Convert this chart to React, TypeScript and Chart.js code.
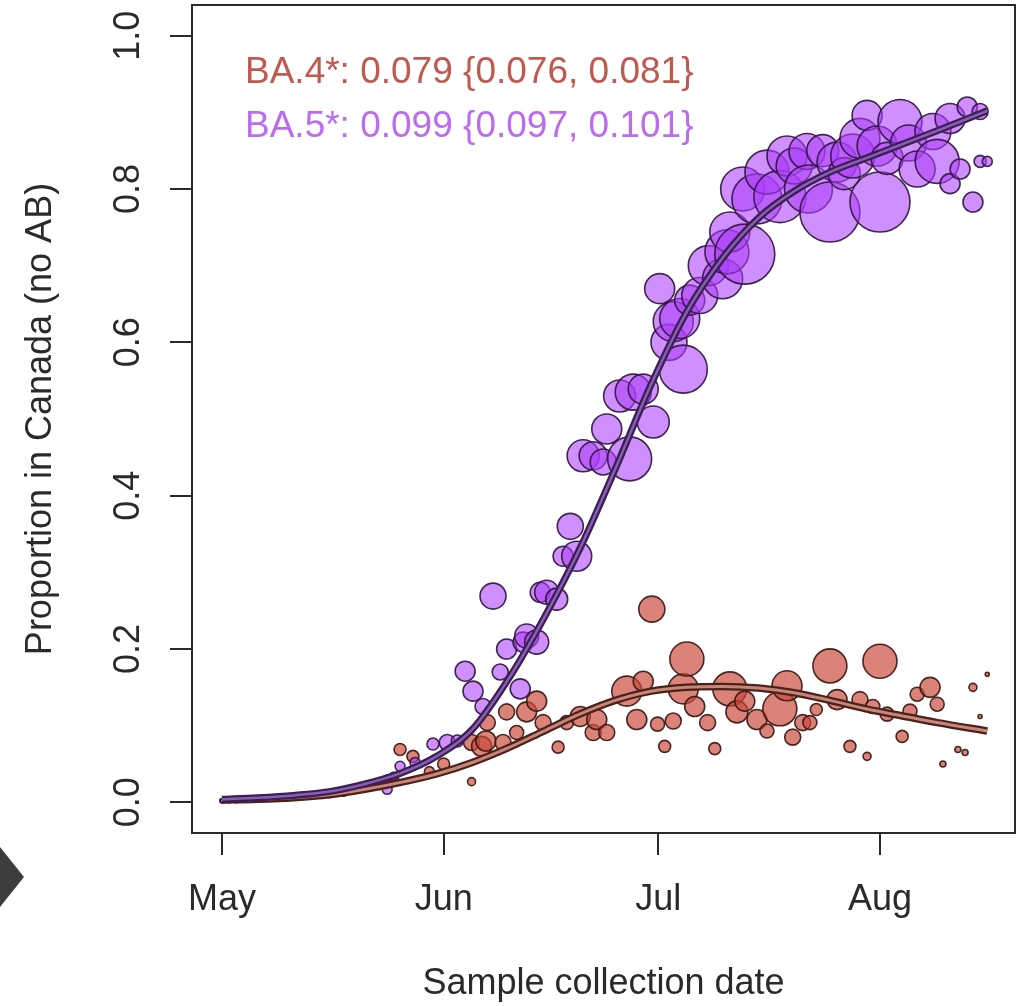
import React, { useEffect, useRef } from "react";
import { Chart, registerables } from "chart.js";

Chart.register(...registerables);

// ---- axis ticks ----
const monthTickDays = [0, 31, 61, 92]; // days since May 1
const monthTickLabels = ["May", "Jun", "Jul", "Aug"];
const yTickValues = [0, 0.2, 0.4, 0.6, 0.8, 1.0];
const yTickLabels = ["0.0", "0.2", "0.4", "0.6", "0.8", "1.0"];

const xTitle = "Sample collection date";
const yTitle = "Proportion in Canada (no AB)";
const legendLines = ["BA.4*: 0.079 {0.076, 0.081}", "BA.5*: 0.099 {0.097, 0.101}"];

// ---- fitted curves ----
const fitDays = [0, 5, 10, 15, 20, 25, 30, 35, 40, 45, 50, 55, 60, 65, 70, 75, 80, 85, 90, 95, 100, 107];
const ba4Fit = [0.003, 0.004, 0.006, 0.010, 0.017, 0.026, 0.037, 0.052, 0.071, 0.093, 0.115, 0.133, 0.145, 0.150, 0.151, 0.149, 0.143, 0.133, 0.122, 0.113, 0.104, 0.093];
const ba5Fit = [0.004, 0.006, 0.009, 0.014, 0.024, 0.038, 0.060, 0.095, 0.160, 0.240, 0.330, 0.435, 0.545, 0.640, 0.710, 0.762, 0.797, 0.822, 0.840, 0.858, 0.876, 0.902];

// ---- BA.4 observed proportions ----
const ba4Days = [
  0, 1, 2, 3, 4, 5, 6, 7, 8, 9,
  10, 11, 12, 13, 14, 15, 16, 17, 18, 19,
  20, 21, 22, 23, 24,
  24.9, 26.7, 29.0, 31.0, 34.9, 34.9, 36.3, 36.9, 37.1, 39.3,
  39.8, 41.2, 42.6, 44.0, 44.9, 47.0, 48.2, 50.1, 51.9, 52.4,
  53.8, 56.6, 58.0, 58.9, 60.1, 60.9, 61.9, 63.1, 64.5, 65.0,
  66.1, 67.9, 68.9, 71.0, 72.0, 73.1, 74.8, 76.2, 78.0, 79.0,
  79.8, 81.2, 82.2, 83.1, 85.0, 86.0, 87.8, 89.2, 90.2, 91.0,
  92.0, 93.0, 95.1, 96.2, 97.2, 99.0, 100.0, 100.8, 102.9, 103.9,
  105.0, 106.0, 107.0,
];
const ba4Props = [
  0.002, 0.003, 0.002, 0.003, 0.004, 0.003, 0.004, 0.005, 0.005, 0.006,
  0.006, 0.007, 0.008, 0.008, 0.009, 0.010, 0.012, 0.012, 0.015, 0.017,
  0.019, 0.022, 0.025, 0.028, 0.032,
  0.069, 0.060, 0.040, 0.050, 0.027, 0.078, 0.073, 0.080, 0.104, 0.078,
  0.118, 0.091, 0.118, 0.132, 0.104, 0.072, 0.104, 0.112, 0.091, 0.108,
  0.091, 0.145, 0.108, 0.158, 0.252, 0.102, 0.073, 0.106, 0.148, 0.187,
  0.125, 0.104, 0.070, 0.148, 0.118, 0.132, 0.108, 0.093, 0.122, 0.152,
  0.085, 0.104, 0.104, 0.121, 0.178, 0.134, 0.073, 0.134, 0.060, 0.125,
  0.184, 0.115, 0.086, 0.119, 0.141, 0.150, 0.128, 0.050, 0.069, 0.065,
  0.150, 0.112, 0.167,
];
const ba4Sizes = [
  2, 2, 2, 2, 2, 2, 2, 2, 2, 2,
  2, 2, 3, 2, 3, 3, 3, 3, 3, 3,
  4, 4, 4, 4, 5,
  6, 6, 5, 6, 4, 8, 10, 10, 8, 8,
  8, 7, 10, 10, 8, 6, 7, 10, 8, 10,
  8, 15, 10, 10, 13, 7, 6, 8, 15, 17,
  10, 8, 6, 17, 11, 10, 10, 7, 17, 15,
  8, 8, 7, 6, 17, 10, 6, 8, 4, 7,
  17, 7, 6, 7, 7, 10, 7, 3, 3, 3,
  4, 2, 2,
];

// ---- BA.5 observed proportions ----
const ba5Days = [
  0, 1, 2, 3, 4, 5, 6, 7, 8, 9,
  10, 11, 12, 13, 14, 15, 16, 17, 18, 19,
  20, 21, 22, 23, 24,
  23.1, 24.9, 27.0, 29.5, 31.5, 32.9, 34.0, 35.1, 36.5, 37.9,
  38.9, 39.8, 41.7, 42.1, 42.6, 44.0, 44.5, 45.4, 46.8, 47.7,
  48.7, 49.6, 50.5, 51.9, 53.3, 53.8, 55.6, 57.0, 57.5, 58.9,
  60.3, 61.2, 62.5, 63.1, 64.0, 64.5, 65.4, 66.8, 68.0, 70.0,
  70.6, 71.0, 73.1, 72.8, 74.8, 76.2, 78.0, 79.0, 80.0, 81.8,
  82.0, 84.0, 85.0, 86.0, 87.0, 88.2, 89.2, 90.2, 91.6, 92.0,
  93.0, 94.8, 96.0, 97.2, 99.4, 100.0, 101.8, 101.8, 103.2, 104.2,
  105.0, 106.0, 106.0, 107.0,
];
const ba5Props = [
  0.002, 0.002, 0.003, 0.003, 0.003, 0.004, 0.004, 0.005, 0.004, 0.006,
  0.006, 0.007, 0.007, 0.009, 0.009, 0.011, 0.012, 0.014, 0.016, 0.016,
  0.020, 0.024, 0.022, 0.030, 0.034,
  0.017, 0.047, 0.052, 0.076, 0.078, 0.080, 0.171, 0.145, 0.125, 0.269,
  0.170, 0.200, 0.148, 0.209, 0.217, 0.209, 0.274, 0.274, 0.265, 0.321,
  0.360, 0.321, 0.452, 0.452, 0.444, 0.487, 0.530, 0.448, 0.535, 0.539,
  0.496, 0.670, 0.600, 0.627, 0.631, 0.565, 0.655, 0.661, 0.700, 0.683,
  0.718, 0.744, 0.715, 0.800, 0.787, 0.822, 0.790, 0.843, 0.830, 0.849,
  0.800, 0.850, 0.770, 0.835, 0.820, 0.843, 0.866, 0.896, 0.856, 0.783,
  0.840, 0.888, 0.860, 0.826, 0.875, 0.836, 0.892, 0.807, 0.826, 0.907,
  0.783, 0.901, 0.836, 0.836,
];
const ba5Sizes = [
  2, 2, 2, 2, 2, 2, 2, 2, 2, 2,
  2, 3, 2, 3, 2, 3, 3, 3, 3, 3,
  4, 3, 4, 4, 4,
  5, 5, 5, 6, 8, 6, 10, 10, 8, 13,
  8, 10, 10, 10, 12, 12, 10, 12, 11, 10,
  13, 15, 16, 14, 13, 15, 16, 22, 18, 15,
  16, 15, 18, 20, 20, 24, 15, 18, 20, 20,
  22, 20, 30, 22, 25, 22, 26, 20, 18, 18,
  24, 16, 30, 20, 16, 22, 20, 15, 20, 30,
  16, 22, 18, 18, 18, 22, 15, 10, 10, 10,
  10, 8, 6, 5,
];

const FONT = '"Liberation Sans", Arial, Helvetica, sans-serif';
const AXIS_COLOR = "#2a2a2a";
const BA4_TEXT = "#c05a50";
const BA5_TEXT = "#bc6cee";

const decorPlugin = {
  id: "decor",
  afterDatasetsDraw(chart: any) {
    const { ctx, chartArea: a, scales } = chart;
    ctx.save();
    ctx.strokeStyle = AXIS_COLOR;
    ctx.lineWidth = 2;
    ctx.strokeRect(a.left, a.top, a.right - a.left, a.bottom - a.top);

    ctx.fillStyle = AXIS_COLOR;
    ctx.font = `36px ${FONT}`;
    yTickValues.forEach((v, i) => {
      const y = scales.y.getPixelForValue(v);
      ctx.save();
      ctx.translate(139, y);
      ctx.rotate(-Math.PI / 2);
      ctx.textAlign = "center";
      ctx.textBaseline = "alphabetic";
      ctx.fillText(yTickLabels[i], 0, 0);
      ctx.restore();
    });

    ctx.textAlign = "left";
    ctx.textBaseline = "alphabetic";
    ctx.font = `37px ${FONT}`;
    ctx.fillStyle = BA4_TEXT;
    ctx.fillText(legendLines[0], 245, 83);
    ctx.fillStyle = BA5_TEXT;
    ctx.fillText(legendLines[1], 245, 137);
    ctx.restore();
  },
};

function pts(days: number[], vals: number[]) {
  return days.map((d, i) => ({ x: d, y: vals[i] }));
}
function bubbles(days: number[], vals: number[], sizes: number[]) {
  return days.map((d, i) => ({ x: d, y: vals[i], r: sizes[i] }));
}

export default function App() {
  const ref = useRef<HTMLCanvasElement | null>(null);

  useEffect(() => {
    if (!ref.current) return;
    const lineCommon = {
      type: "line" as const,
      pointRadius: 0,
      cubicInterpolationMode: "monotone" as const,
      fill: false,
    };
    const chart = new Chart(ref.current, {
      type: "bubble",
      data: {
        datasets: [
          { ...lineCommon, data: pts(fitDays, ba5Fit), borderColor: "#8a5db5", borderWidth: 2.5 } as any,
          { ...lineCommon, data: pts(fitDays, ba5Fit), borderColor: "#3a1f52", borderWidth: 7 } as any,
          { ...lineCommon, data: pts(fitDays, ba4Fit), borderColor: "#c9857a", borderWidth: 3 } as any,
          { ...lineCommon, data: pts(fitDays, ba4Fit), borderColor: "#4a2219", borderWidth: 7.5 } as any,
          {
            type: "bubble",
            data: bubbles(ba5Days, ba5Props, ba5Sizes),
            backgroundColor: "rgba(172,62,250,0.58)",
            borderColor: "rgba(45,20,60,0.9)",
            borderWidth: 1.6,
          },
          {
            type: "bubble",
            data: bubbles(ba4Days, ba4Props, ba4Sizes),
            backgroundColor: "rgba(202,72,58,0.68)",
            borderColor: "rgba(55,22,18,0.9)",
            borderWidth: 1.6,
          },
        ],
      },
      options: {
        responsive: false,
        animation: false,
        events: [],
        layout: { autoPadding: false, padding: { left: 0, top: 5, right: 5, bottom: 0 } },
        plugins: { legend: { display: false }, tooltip: { enabled: false } },
        scales: {
          x: {
            type: "linear",
            position: "bottom",
            min: -4.19,
            max: 110.88,
            afterBuildTicks: (s: any) => {
              s.ticks = monthTickDays.map((v) => ({ value: v }));
            },
            afterFit: (s: any) => {
              s.height = 173;
            },
            ticks: {
              autoSkip: false,
              maxRotation: 0,
              minRotation: 0,
              padding: 23,
              color: AXIS_COLOR,
              font: { size: 36, family: FONT },
              callback: (v: any) => monthTickLabels[monthTickDays.indexOf(Number(v))] ?? "",
            },
            grid: {
              drawOnChartArea: false,
              drawTicks: true,
              tickLength: 22,
              color: AXIS_COLOR,
              lineWidth: 2,
            },
            border: { display: false },
            title: {
              display: true,
              text: xTitle,
              color: AXIS_COLOR,
              font: { size: 36, family: FONT },
              padding: { top: 0, bottom: 0 },
            },
          },
          y: {
            type: "linear",
            position: "left",
            min: -0.04,
            max: 1.04,
            afterBuildTicks: (s: any) => {
              s.ticks = yTickValues.map((v) => ({ value: v }));
            },
            afterFit: (s: any) => {
              s.width = 192;
            },
            ticks: { display: false },
            grid: {
              drawOnChartArea: false,
              drawTicks: true,
              tickLength: 22,
              color: AXIS_COLOR,
              lineWidth: 2,
            },
            border: { display: false },
            title: {
              display: true,
              text: yTitle,
              color: AXIS_COLOR,
              font: { size: 36, family: FONT },
              padding: { top: 19, bottom: 0 },
            },
          },
        },
      },
      plugins: [decorPlugin],
    });
    return () => chart.destroy();
  }, []);

  return (
    <div style={{ position: "absolute", left: 0, top: 0, width: 1020, height: 1006, background: "#fff", overflow: "hidden" }}>
      <canvas ref={ref} width={1020} height={1006} style={{ display: "block" }} />
      <div
        style={{
          position: "absolute",
          left: 0,
          top: 847,
          width: 24,
          height: 60,
          background: "#3c3c3c",
          clipPath: "polygon(0 0, 100% 50%, 0 100%)",
        }}
      />
    </div>
  );
}
